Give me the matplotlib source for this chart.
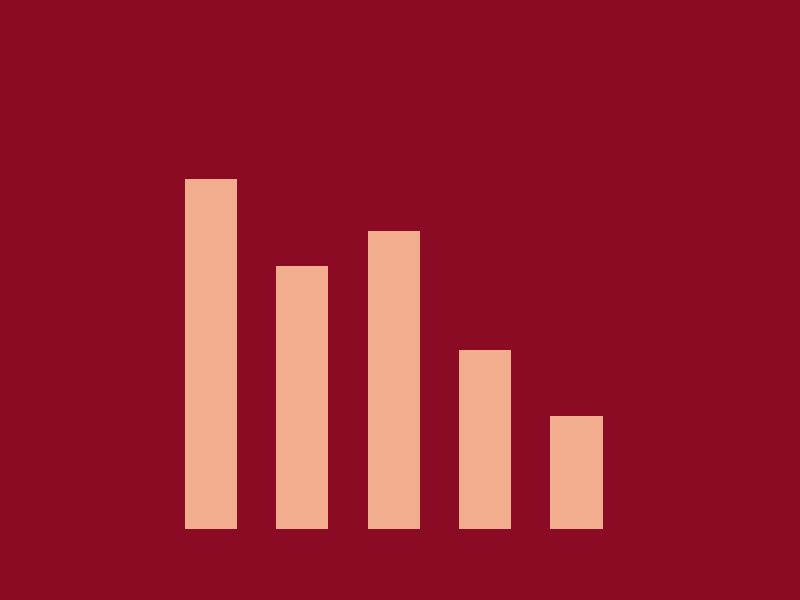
import matplotlib
matplotlib.use("Agg")
import matplotlib.pyplot as plt

categories = ["A", "B", "C", "D", "E"]
values = [350, 263, 298, 179, 113]

BG = "#8B0B24"
BAR = "#F2AD8E"

fig = plt.figure(figsize=(8, 6), dpi=100, facecolor=BG)
ax = fig.add_axes([0.2066, 0.1183, 0.5711, 0.6667])
ax.set_facecolor(BG)
ax.bar(range(len(categories)), values, width=0.57, color=BAR)
ax.set_xlim(-0.5, len(categories) - 0.5)
ax.set_ylim(0, 400)
ax.axis("off")

fig.savefig("out.png", dpi=100, facecolor=BG)
